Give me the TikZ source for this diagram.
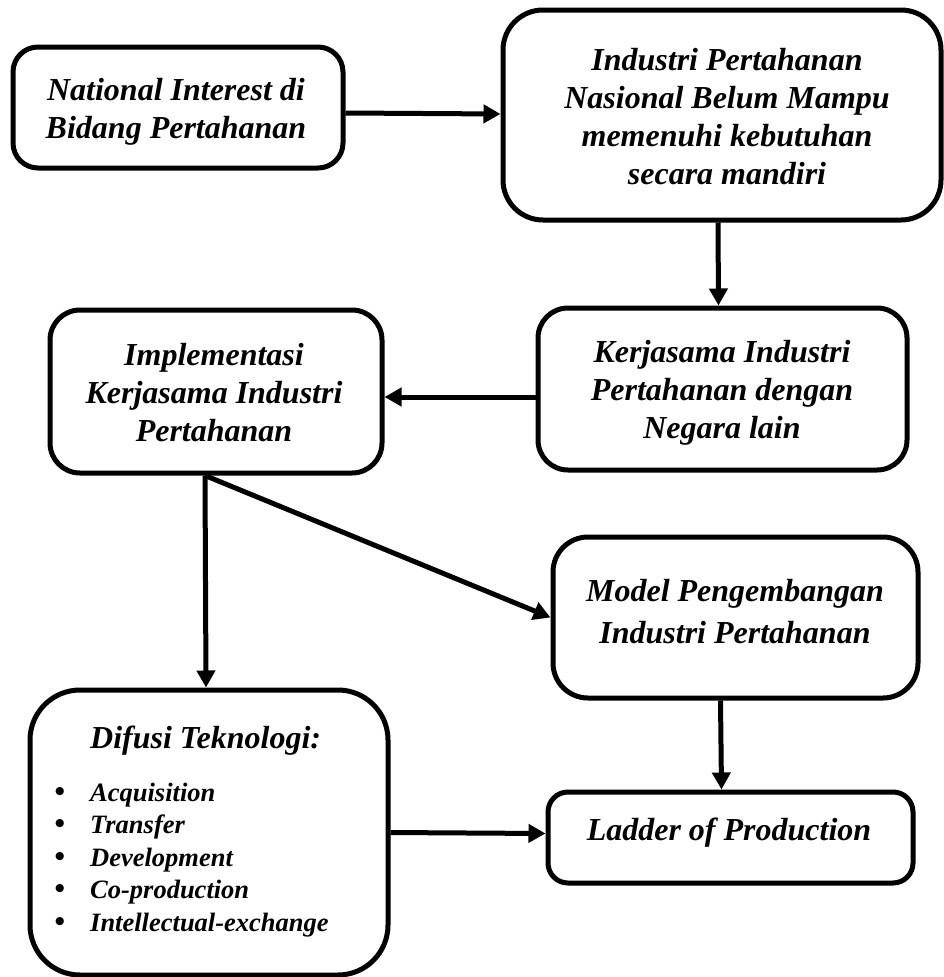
\documentclass[tikz,border=0pt]{standalone}
\usepackage{fontspec}
\setmainfont{Liberation Serif}
\usetikzlibrary{arrows.meta}
\begin{document}
\begin{tikzpicture}[x=1pt,y=-1pt,
  box/.style={draw=black, line width=5pt, inner sep=0pt},
  arr/.style={draw=black, line width=5pt, -{Triangle[length=17pt,width=18pt]}},
  main/.style={font=\fontsize{32}{38}\selectfont\bfseries\itshape, align=center, inner sep=0pt},
  item/.style={font=\fontsize{26.5}{32}\selectfont\bfseries\itshape, anchor=base west, inner sep=0pt},
  bul/.style={font=\fontsize{30}{32}\selectfont\bfseries, anchor=base, inner sep=0pt}]
\useasboundingbox (0,0) rectangle (944,977);
% boxes
\node[box, rounded corners=25pt, minimum width=330pt, minimum height=121pt] (b1) at (178,107.5) {};
\node[box, rounded corners=40pt, minimum width=438pt, minimum height=210pt] (b2) at (722,115) {};
\node[box, rounded corners=30pt, minimum width=369pt, minimum height=162pt] (b3) at (722.5,389) {};
\node[box, rounded corners=30pt, minimum width=332pt, minimum height=163pt] (b4) at (216,391.5) {};
\node[box, rounded corners=35pt, minimum width=365pt, minimum height=161pt] (b5) at (735.5,617.5) {};
\node[box, rounded corners=50pt, minimum width=358pt, minimum height=285pt] (b6) at (209,832.5) {};
\node[box, rounded corners=20pt, minimum width=365pt, minimum height=91pt] (b7) at (730.5,837.5) {};
% texts
\node[main] (t1) at (176,112) {National Interest di\\Bidang Pertahanan};
\node[main] (t2) at (727,117) {Industri Pertahanan\\Nasional Belum Mampu\\memenuhi kebutuhan\\secara mandiri};
\node[main] (t3) at (722,393) {Kerjasama Industri\\Pertahanan dengan\\Negara lain};
\node[main] (t4) at (214,393) {Implementasi\\Kerjasama Industri\\Pertahanan};
\node[main, font=\fontsize{32}{42}\selectfont\bfseries\itshape] (t5) at (735,612) {Model Pengembangan\\Industri Pertahanan};
\node[main, anchor=base] (t7) at (729,840) {Ladder of Production};
\node[main, anchor=base west] (t6) at (90,748) {Difusi Teknologi:};
\node[bul] (d1) at (60,801) {\textbullet};
\node[item] (i1) at (90,801) {Acquisition};
\node[bul] (d2) at (60,833.5) {\textbullet};
\node[item] (i2) at (90,833.5) {Transfer};
\node[bul] (d3) at (60,866) {\textbullet};
\node[item] (i3) at (90,866) {Development};
\node[bul] (d4) at (60,898.5) {\textbullet};
\node[item] (i4) at (90,898.5) {Co-production};
\node[bul] (d5) at (60,931) {\textbullet};
\node[item] (i5) at (90,931) {Intellectual-exchange};
% connectors
\draw[arr] ([yshift=-5.5pt]b1.east) -- ([yshift=1pt]b2.west);
\draw[arr] ([xshift=-4pt]b2.south) -- ([xshift=-4pt]b3.north);
\draw[arr] ([yshift=-8pt]b3.west) -- ([yshift=-5.5pt]b4.east);
\coordinate (s4) at ([xshift=-11pt]b4.south);
\draw[arr] (s4) -- ([xshift=-3pt]b6.north);
\draw[arr] (s4) -- (b5.west);
\draw[arr] ([xshift=-15pt]b5.south) -- ([xshift=-9pt]b7.north);
\draw[arr] (b6.east) -- ([yshift=4pt]b7.west);
\end{tikzpicture}
\end{document}
